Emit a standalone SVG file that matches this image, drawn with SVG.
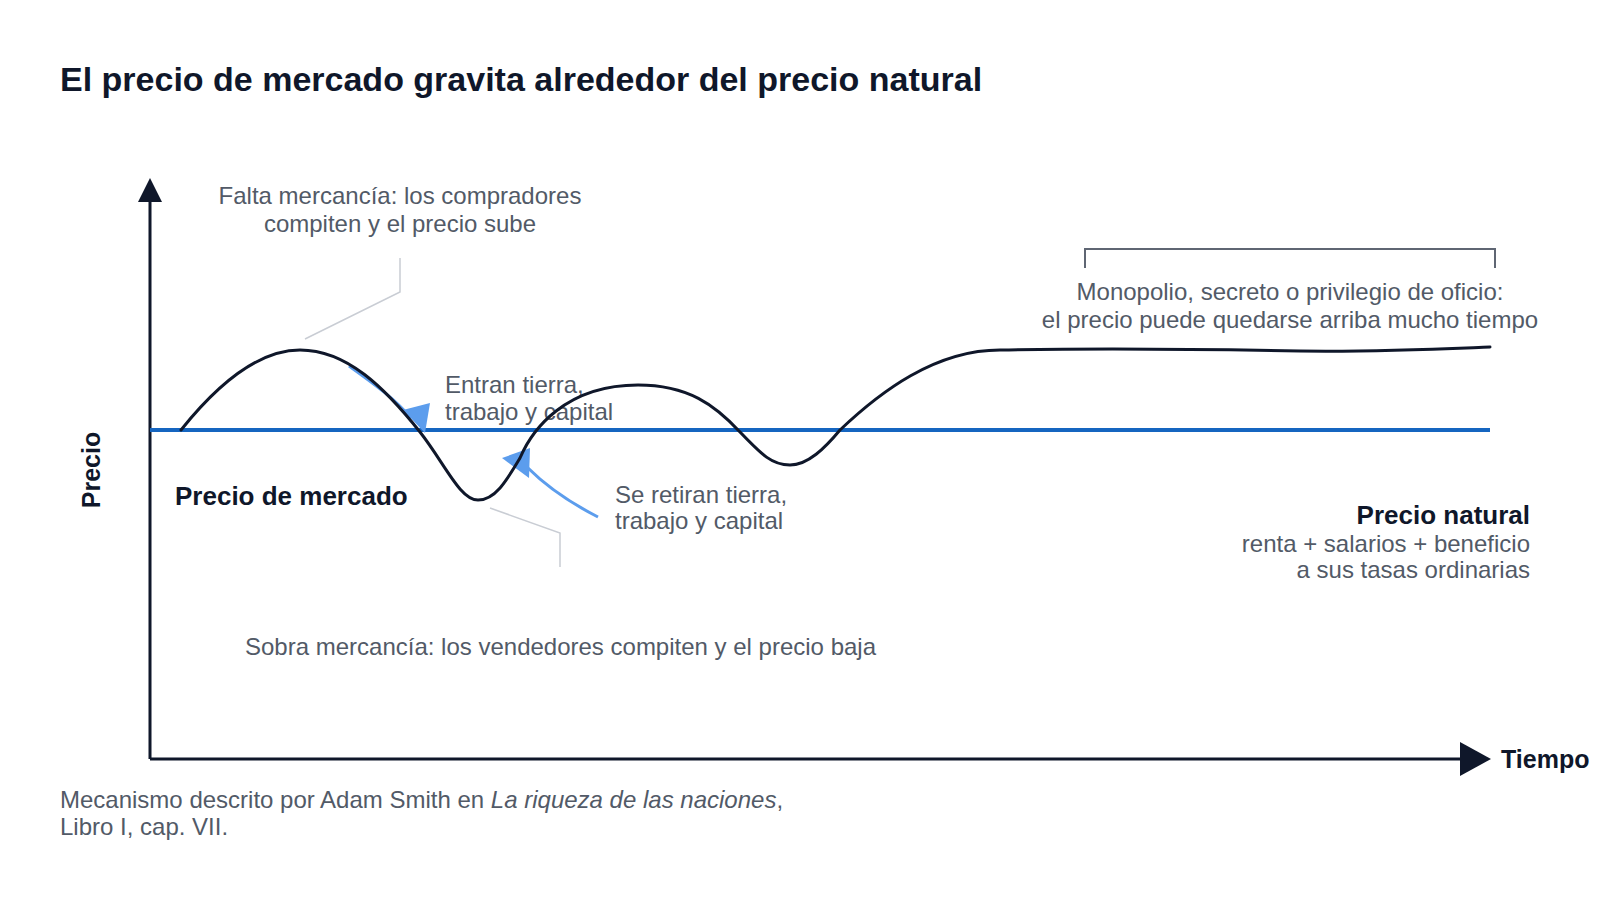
<svg xmlns="http://www.w3.org/2000/svg" width="1600" height="900" viewBox="0 0 1600 900">
<style>
.title{font-family:"Liberation Sans",Arial,sans-serif;font-weight:bold;font-size:34px;fill:#0f172a}
.bold{font-family:"Liberation Sans",Arial,sans-serif;font-weight:bold;font-size:25px;fill:#0f172a}
.note{font-family:"Liberation Sans",Arial,sans-serif;font-size:24px;fill:#525a67}
.axis{fill:none;stroke:#0f172a;stroke-width:3}
.head{fill:#0f172a}
.leader{fill:none;stroke:#c9cdd4;stroke-width:1.5}
.flow{fill:none;stroke:#5c9ded;stroke-width:3}
.flowhead{fill:#5c9ded}
</style>
<rect width="1600" height="900" fill="#ffffff"/>
<text class="title" x="60" y="91">El precio de mercado gravita alrededor del precio natural</text>

<g id="axes">
<line class="axis" x1="150" y1="759" x2="150" y2="196"/>
<polygon class="head" points="150,178 162,202 138,202"/>
<line class="axis" x1="150" y1="759" x2="1464" y2="759"/>
<polygon class="head" points="1491,759 1460,742 1460,776"/>
</g>

<g id="natural-line">
<line x1="150" y1="430" x2="1490" y2="430" stroke="#1565c0" stroke-width="4"/>
</g>

<g id="connectors">
<polyline class="leader" points="400,258 400,292 305,339"/>
<polyline class="leader" points="490,508 560,533 560,567"/>
<path class="flow" d="M349,366 C374,384 394,398 411,418"/>
<polygon class="flowhead" points="403,410 430,403 425,433"/>
<path class="flow" d="M598,517 Q555,495 528,468"/>
<polygon class="flowhead" points="502,458 530,448 529,478"/>
<polyline fill="none" stroke="#5f6673" stroke-width="2" points="1085,268 1085,249 1495,249 1495,268"/>
</g>

<g id="label-falta">
<text class="note" text-anchor="middle" x="400" y="204">Falta mercancía: los compradores</text>
<text class="note" text-anchor="middle" x="400" y="232">compiten y el precio sube</text>
</g>
<g id="label-entran">
<text class="note" x="445" y="393">Entran tierra,</text>
<text class="note" x="445" y="420">trabajo y capital</text>
</g>
<g id="label-retiran">
<text class="note" x="615" y="503">Se retiran tierra,</text>
<text class="note" x="615" y="529">trabajo y capital</text>
</g>
<g id="label-mercado">
<text class="bold" x="175" y="505" style="font-size:26px">Precio de mercado</text>
</g>
<g id="label-sobra">
<text class="note" x="245" y="655">Sobra mercancía: los vendedores compiten y el precio baja</text>
</g>
<g id="label-monopolio">
<text class="note" text-anchor="middle" x="1290" y="300">Monopolio, secreto o privilegio de oficio:</text>
<text class="note" text-anchor="middle" x="1290" y="328">el precio puede quedarse arriba mucho tiempo</text>
</g>
<g id="label-natural">
<text class="bold" text-anchor="end" x="1530" y="524" style="font-size:26px">Precio natural</text>
<text class="note" text-anchor="end" x="1530" y="552">renta + salarios + beneficio</text>
<text class="note" text-anchor="end" x="1530" y="578">a sus tasas ordinarias</text>
</g>
<g id="label-precio">
<text class="bold" text-anchor="middle" transform="translate(100,470) rotate(-90)">Precio</text>
</g>
<g id="label-tiempo">
<text class="bold" x="1501" y="768">Tiempo</text>
</g>

<g id="market-curve">
<path fill="none" stroke="#0f172a" stroke-width="3" stroke-linecap="round" d="M181,430 C217,385 258,350 300,350 C347,350 385,388 420,432 C445,464 460,500 478,500 C496,500 508,478 520,458 C532,430 565,385 638,385 C688,385 715,405 740,432 C762,455 772,465 790,465 C808,465 825,448 840,430 C880,392 935,350 1000,350 C1100,348 1200,349 1300,351 C1380,352 1440,349 1490,347"/>
</g>

<g id="footer">
<text class="note" x="60" y="808">Mecanismo descrito por Adam Smith en <tspan font-style="italic">La riqueza de las naciones</tspan>,</text>
<text class="note" x="60" y="835">Libro I, cap. VII.</text>
</g>
</svg>
